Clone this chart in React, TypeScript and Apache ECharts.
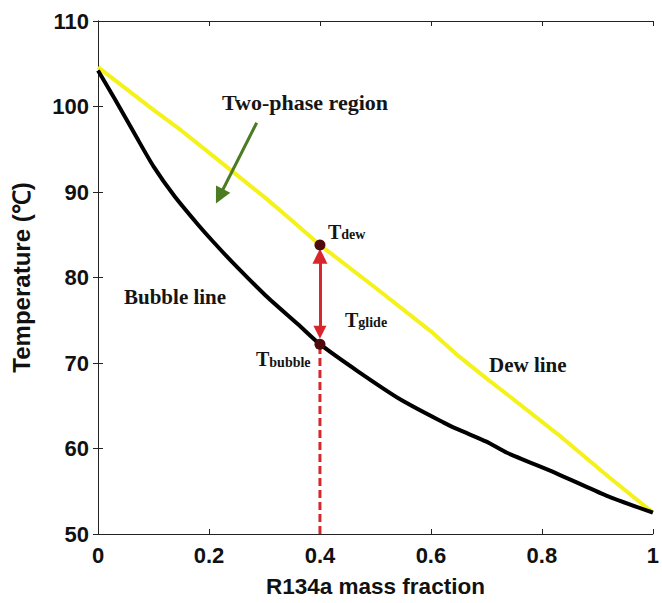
import React, { useEffect, useRef } from "react";
import * as echarts from "echarts";

// Dew line (yellow)
const dewX = [0, 0.1, 0.15, 0.2, 0.3, 0.34, 0.4, 0.5, 0.6, 0.65, 0.7, 0.74, 0.83, 0.92, 1];
const dewT = [104.6, 99.6, 97.2, 94.6, 89.4, 87.2, 83.8, 78.8, 73.7, 70.8, 68.2, 66.2, 61.6, 56.7, 52.5];

// Bubble line (black)
const bubbleX = [0, 0.03, 0.066, 0.1, 0.138, 0.18, 0.206, 0.242, 0.302, 0.361, 0.4, 0.469, 0.546, 0.624, 0.65, 0.7, 0.737, 0.826, 0.916, 1];
const bubbleT = [104.2, 100.9, 96.8, 93.0, 89.5, 86.2, 84.3, 81.8, 77.9, 74.5, 72.2, 69.0, 65.7, 63.0, 62.2, 60.8, 59.5, 57.1, 54.5, 52.5];

// Selected composition
const selX = 0.4;
const selDew = 83.8;
const selBubble = 72.2;
const dashedLine = [[selX, 50], [selX, selBubble]];
const glideArrow = [[selX, 73.6], [selX, 82.5]];
const pointerArrow = [[0.286, 98.1], [0.219, 89.5]];
const markerPoints = [[selX, selDew], [selX, selBubble]];

const xRange = [0, 1];
const xInterval = 0.2;
const yRange = [50, 110];
const yInterval = 10;

const zip = (a: number[], b: number[]) => a.map((v, i) => [v, b[i]]);

const SERIF = '"Liberation Serif", "Times New Roman", serif';
const SANS = '"Liberation Sans", Arial, sans-serif';
const TXT = "#151515";

export default function App() {
  const ref = useRef<HTMLDivElement>(null);
  useEffect(() => {
    document.body.style.margin = "0";
    if (!ref.current) return;
    const chart = echarts.init(ref.current, undefined, { renderer: "svg" });
    const axisLine = { show: true, lineStyle: { color: "#222", width: 1 } };
    const axisTick = { show: true, inside: true, length: 5, lineStyle: { color: "#222", width: 1 } };
    const labelStyle = { fontFamily: SANS, fontWeight: "bold" as const, fontSize: 22, color: "#111" };

    const tText = (x: number, y: number, sub: string) => ({
      type: "text",
      x,
      y,
      style: {
        text: `{t|T}{s|${sub}}`,
        rich: {
          t: { fontFamily: SERIF, fontWeight: "bold", fontSize: 20, fill: TXT, verticalAlign: "bottom" },
          s: { fontFamily: SERIF, fontWeight: "bold", fontSize: 14, fill: TXT, verticalAlign: "bottom" },
        },
        fill: TXT,
        textAlign: "left",
        textVerticalAlign: "middle",
        align: "left",
        verticalAlign: "middle",
      },
    });
    const plainText = (x: number, y: number, text: string, size: number) => ({
      type: "text",
      x,
      y,
      style: {
        text,
        font: `bold ${size}px ${SERIF}`,
        fill: TXT,
        textAlign: "left",
        textVerticalAlign: "middle",
        align: "left",
        verticalAlign: "middle",
      },
    });

    chart.setOption({
      animation: false,
      grid: { left: 98, right: 5, top: 21, bottom: 61, containLabel: false },
      xAxis: [
        {
          type: "value",
          min: xRange[0],
          max: xRange[1],
          interval: xInterval,
          position: "bottom",
          axisLine,
          axisTick,
          splitLine: { show: false },
          axisLabel: { ...labelStyle, margin: 10 },
          name: "R134a mass fraction",
          nameLocation: "middle",
          nameGap: 41,
          nameTextStyle: { fontFamily: SANS, fontWeight: "bold", fontSize: 22.5, color: "#111" },
        },
        {
          type: "value",
          min: xRange[0],
          max: xRange[1],
          interval: xInterval,
          position: "top",
          axisLine,
          axisTick,
          splitLine: { show: false },
          axisLabel: { show: false },
        },
      ],
      yAxis: [
        {
          type: "value",
          min: yRange[0],
          max: yRange[1],
          interval: yInterval,
          position: "left",
          axisLine,
          axisTick,
          splitLine: { show: false },
          axisLabel: { ...labelStyle, margin: 9 },
          name: "Temperature (℃)",
          nameLocation: "middle",
          nameGap: 65,
          nameTextStyle: { fontFamily: SANS, fontWeight: "bold", fontSize: 24, color: "#111" },
        },
        {
          type: "value",
          min: yRange[0],
          max: yRange[1],
          interval: yInterval,
          position: "right",
          axisLine,
          axisTick,
          splitLine: { show: false },
          axisLabel: { show: false },
        },
      ],
      series: [
        {
          type: "line",
          data: zip(dewX, dewT),
          symbol: "none",
          lineStyle: { color: "#f4f21a", width: 4 },
          z: 2,
        },
        {
          type: "line",
          data: zip(bubbleX, bubbleT),
          symbol: "none",
          smooth: 0.25,
          lineStyle: { color: "#000", width: 4 },
          z: 3,
        },
        {
          type: "line",
          data: dashedLine,
          symbol: "none",
          lineStyle: { color: "#d8272c", width: 3, type: [8, 4] },
          z: 4,
        },
        {
          type: "lines",
          coordinateSystem: "cartesian2d",
          data: [{ coords: glideArrow }],
          symbol: ["triangle", "triangle"],
          symbolSize: [13, 15],
          lineStyle: { color: "#d8272c", width: 3, opacity: 1, curveness: 0 },
          z: 4,
        },
        {
          type: "lines",
          coordinateSystem: "cartesian2d",
          data: [{ coords: pointerArrow }],
          symbol: ["none", "triangle"],
          symbolSize: [12, 16],
          lineStyle: { color: "#4b7b22", width: 3, opacity: 1, curveness: 0 },
          z: 4,
        },
        {
          type: "scatter",
          data: markerPoints,
          symbol: "circle",
          symbolSize: 11,
          itemStyle: { color: "#4e0a0c", opacity: 1 },
          z: 6,
        },
      ],
      graphic: [
        plainText(222, 102.5, "Two-phase region", 22),
        plainText(124, 296.7, "Bubble line", 21),
        plainText(489, 364.8, "Dew line", 21),
        tText(328, 231.5, "dew"),
        tText(345, 319.5, "glide"),
        tText(256, 359, "bubble"),
      ],
    });
    return () => chart.dispose();
  }, []);
  return <div ref={ref} style={{ width: 662, height: 603 }} />;
}
